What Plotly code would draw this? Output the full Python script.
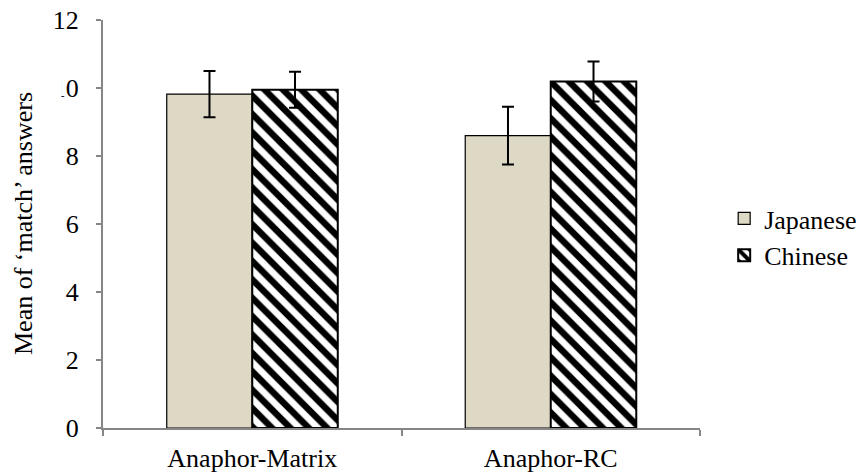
import plotly.graph_objects as go

# Conditions and group means with their error margins
conditions = ["Anaphor-Matrix", "Anaphor-RC"]
japanese_mean = [9.82, 8.60]
japanese_err = [0.68, 0.85]
chinese_mean = [9.95, 10.19]
chinese_err = [0.53, 0.59]

y_ticks = [0, 2, 4, 6, 8, 10, 12]

FONT = "Liberation Serif"
FS = 26
AXIS_GREY = "#868686"

fig = go.Figure()

fig.add_trace(go.Bar(
    name="Japanese",
    x=conditions,
    y=japanese_mean,
    marker=dict(color="#DDD9C4", line=dict(color="#000000", width=1.2)),
    error_y=dict(type="data", array=japanese_err, color="#000000",
                 thickness=2, width=6),
))

fig.add_trace(go.Bar(
    name="Chinese",
    x=conditions,
    y=chinese_mean,
    marker=dict(
        color="#FFFFFF",
        line=dict(color="#000000", width=2),
        pattern=dict(shape="\\", fgcolor="#000000", bgcolor="#FFFFFF",
                     fgopacity=1, size=13, solidity=0.5, fillmode="replace"),
    ),
    error_y=dict(type="data", array=chinese_err, color="#000000",
                 thickness=2, width=6),
))

fig.update_layout(
    width=856,
    height=476,
    margin=dict(l=103, r=156, t=20, b=47.5, autoexpand=False),
    paper_bgcolor="#FFFFFF",
    plot_bgcolor="#FFFFFF",
    barmode="group",
    bargap=0.427,
    bargroupgap=0,
    font=dict(family=FONT, size=FS, color="#000000"),
    showlegend=True,
    legend=dict(
        xref="container", yref="container",
        x=0.846, y=0.502, xanchor="left", yanchor="middle",
        font=dict(family=FONT, size=FS, color="#000000"),
        bgcolor="rgba(0,0,0,0)",
        tracegroupgap=0,
    ),
)

fig.update_xaxes(
    automargin=False,
    showline=True, linecolor=AXIS_GREY, linewidth=2,
    ticks="outside", ticklen=6, tickcolor=AXIS_GREY, tickwidth=2,
    tickson="boundaries", ticklabelstandoff=6,
    showgrid=False, zeroline=False,
    tickfont=dict(family=FONT, size=FS, color="#000000"),
)

fig.update_yaxes(
    automargin=False,
    range=[0, 12],
    tickvals=y_ticks,
    ticktext=[str(v) for v in y_ticks],
    showline=True, linecolor=AXIS_GREY, linewidth=2,
    ticks="outside", ticklen=5, tickcolor=AXIS_GREY, tickwidth=2,
    ticklabelstandoff=12,
    showgrid=False, zeroline=False,
    tickfont=dict(family=FONT, size=FS, color="#000000"),
)

# Axis title box (white background, sits over the edge of the tick labels)
fig.add_annotation(
    text="Mean of \u2018match\u2019 answers",
    xref="paper", yref="paper",
    x=-0.1340, y=0.5, xanchor="center", yanchor="middle",
    textangle=-90, showarrow=False,
    font=dict(family=FONT, size=FS, color="#000000"),
    bgcolor="#FFFFFF", borderpad=23,
)

fig.write_html("out.html")
